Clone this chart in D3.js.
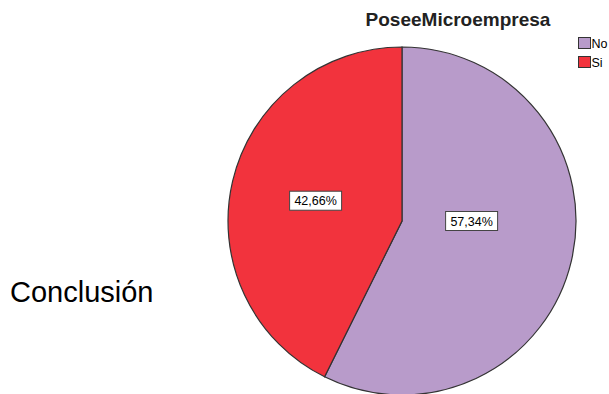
<!DOCTYPE html>
<html><head><meta charset="utf-8">
<script src="https://cdn.jsdelivr.net/npm/d3@7"></script>
<style>body{margin:0;background:#fff}svg{display:block}</style>
</head><body>
<script>
const categories = ["No", "Si"];
const values = [57.34, 42.66];
const labels = ["57,34%", "42,66%"];
const colors = ["#B89BCA", "#F2333D"];
const title = "PoseeMicroempresa";
const sideText = "Conclusión";

const W = 609, H = 394;
const FONT = "Liberation Sans, Arial, sans-serif";
const svg = d3.select("body").append("svg").attr("width", W).attr("height", H);

svg.append("text").attr("x", 10).attr("y", 302)
  .attr("font-family", FONT).attr("font-size", 29)
  .attr("fill", "#000").text(sideText);

svg.append("text").attr("x", 458).attr("y", 26).attr("text-anchor", "middle")
  .attr("font-family", FONT).attr("font-size", 19)
  .attr("font-weight", "bold").attr("fill", "#222").text(title);

const cx = 402, cy = 221, r = 174;
const pie = d3.pie().sort(null).value(d => d)(values);
const arc = d3.arc().innerRadius(0).outerRadius(r);
const g = svg.append("g").attr("transform", `translate(${cx},${cy})`);
g.selectAll("path").data(pie).join("path")
  .attr("d", arc).attr("fill", (d, i) => colors[i])
  .attr("stroke", "#333").attr("stroke-width", 1.2);

// label placement: angle clamped toward horizontal, radius as fraction of r
const labelPos = d => {
  const mid = (d.startAngle + d.endAngle) / 2;
  const big = (d.endAngle - d.startAngle) > Math.PI;
  const ang = big ? Math.PI / 2 : mid;
  const rr = big ? r * 0.40 : r * 0.51;
  return d3.pointRadial(ang, rr);
};
const lg = g.selectAll("g.lbl").data(pie).join("g").attr("class", "lbl")
  .attr("transform", d => { const c = labelPos(d); return `translate(${c[0]},${c[1]})`; });
lg.append("rect").attr("x", -26).attr("y", -9.5).attr("width", 52).attr("height", 19)
  .attr("fill", "#fff").attr("stroke", "#444").attr("stroke-width", 1);
lg.append("text").attr("text-anchor", "middle").attr("dy", 4.5)
  .attr("font-family", FONT).attr("font-size", 12.5)
  .attr("fill", "#000").text((d, i) => labels[i]);

const leg = svg.append("g").attr("transform", "translate(578,37)");
categories.forEach((c, i) => {
  const row = leg.append("g").attr("transform", `translate(0,${i * 19})`);
  row.append("rect").attr("x", 0.5).attr("y", 0.5).attr("width", 12).attr("height", 11)
    .attr("fill", colors[i]).attr("stroke", "#333").attr("stroke-width", 1);
  row.append("text").attr("x", 13.5).attr("y", 11)
    .attr("font-family", FONT).attr("font-size", 12.5)
    .attr("fill", "#000").text(c);
});
</script>
</body></html>
